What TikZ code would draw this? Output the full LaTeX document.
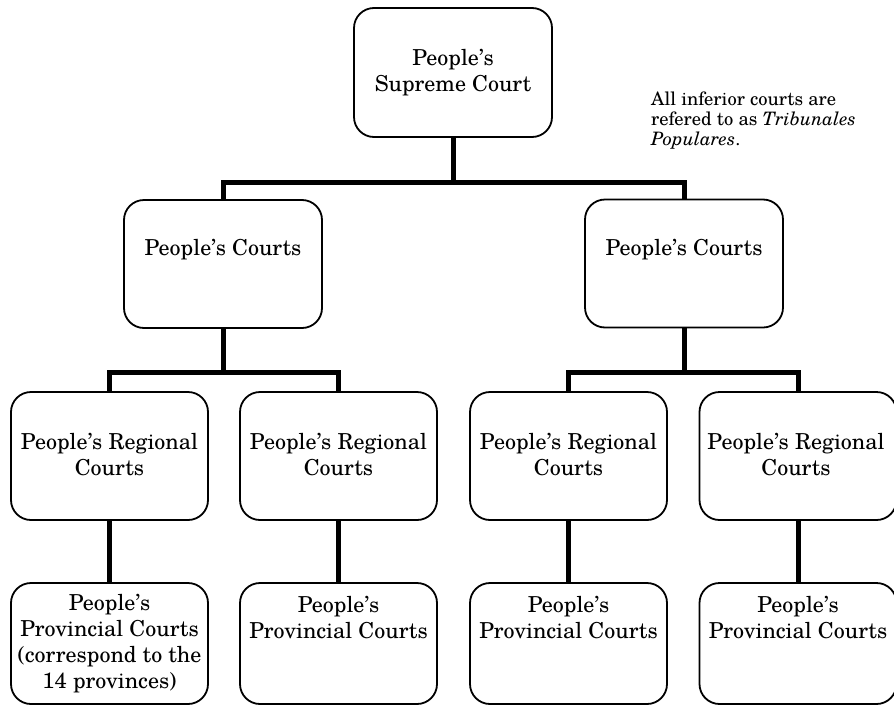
\documentclass[tikz,border=0pt]{standalone}
\usepackage{fontspec}
\setmainfont{TeX Gyre Schola}
\begin{document}
\begin{tikzpicture}[x=1pt,y=-1pt,
  box/.style={draw, line width=1.8pt, rounded corners=20pt, inner sep=0pt, minimum width=198pt},
  conn/.style={line width=5pt},
  txt/.style={align=center, inner sep=0pt, font=\fontsize{22}{26}\selectfont},
  note/.style={align=left, inner sep=0pt, anchor=west, font=\fontsize{18.5}{20}\selectfont}]
\useasboundingbox (0,0) rectangle (894,707);
% boxes
\node[box, minimum height=129pt] (top) at (453,72.5) {};
\node[box, minimum height=128pt] (pcL) at (223,264) {};
\node[box, minimum height=128pt] (pcR) at (684,263.5) {};
\node[box, minimum height=128pt, minimum width=197pt] (rg1) at (109.5,456) {};
\node[box, minimum height=128pt, minimum width=197pt] (rg2) at (338.5,456) {};
\node[box, minimum height=128pt, minimum width=197pt] (rg3) at (568.5,456) {};
\node[box, minimum height=128pt, minimum width=197pt] (rg4) at (798,456) {};
\node[box, minimum height=121pt, minimum width=197pt] (pv1) at (109.5,643.5) {};
\node[box, minimum height=121pt, minimum width=197pt] (pv2) at (338.5,643.5) {};
\node[box, minimum height=121pt, minimum width=197pt] (pv3) at (568.5,643.5) {};
\node[box, minimum height=121pt, minimum width=197pt] (pv4) at (798,643.5) {};
% texts
\node[txt] (ttop) at (453,73) {People's\\Supreme Court};
\node[txt] (tpcL) at (223,250) {People's Courts};
\node[txt] (tpcR) at (684,250) {People's Courts};
\node[txt] (trg1) at (109.5,455) {People's Regional\\Courts};
\node[txt] (trg2) at (338.5,455) {People's Regional\\Courts};
\node[txt] (trg3) at (568.5,455) {People's Regional\\Courts};
\node[txt] (trg4) at (796,455) {People's Regional\\Courts};
\node[txt] (tpv1) at (109.5,644) {People's\\Provincial Courts\\(correspond to the\\14 provinces)};
\node[txt] (tpv2) at (338.5,617.5) {People's\\Provincial Courts};
\node[txt] (tpv3) at (568.5,617.5) {People's\\Provincial Courts};
\node[txt] (tpv4) at (798,617.5) {People's\\Provincial Courts};
\node[note] (nt) at (651,121) {All inferior courts are\\refered to as \textit{Tribunales}\\\textit{Populares}.};
% connectors
\coordinate (j0) at (453,182);
\coordinate (j1) at (223,372);
\coordinate (j2) at (684,372);
\draw[conn] (top.south) -- (j0);
\draw[conn] (pcL.north) |- (j0) -| (pcR.north);
\draw[conn] (pcL.south) -- (j1);
\draw[conn] (rg1.north) |- (j1) -| (rg2.north);
\draw[conn] (pcR.south) -- (j2);
\draw[conn] (rg3.north) |- (j2) -| (rg4.north);
\draw[conn] (rg1.south) -- (pv1.north);
\draw[conn] (rg2.south) -- (pv2.north);
\draw[conn] (rg3.south) -- (pv3.north);
\draw[conn] (rg4.south) -- (pv4.north);
\end{tikzpicture}
\end{document}
